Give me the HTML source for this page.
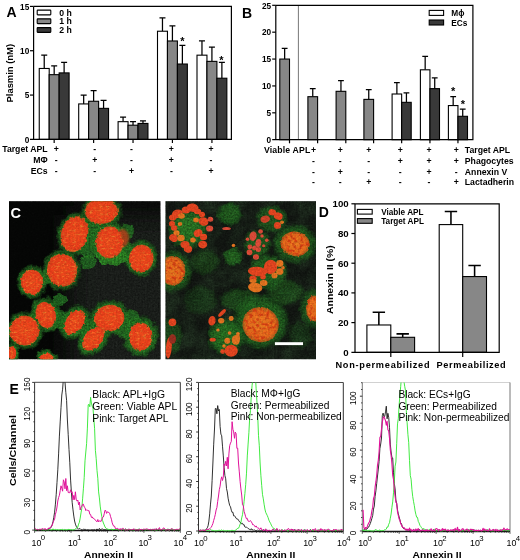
<!DOCTYPE html>
<html><head><meta charset="utf-8"><title>Figure</title>
<style>
html,body{margin:0;padding:0;background:#fff;}
body{width:520px;height:560px;overflow:hidden;}
svg{display:block;font-family:"Liberation Sans", sans-serif;}
.b{font-weight:bold;}
.ax{stroke:#000;stroke-width:1.2;fill:none;}
.eb{stroke:#000;fill:none;}
.bar{stroke:#000;stroke-width:1.1;}
.t9{font-size:9px;font-weight:bold;}
.t85{font-size:8.7px;font-weight:bold;}
.pl{font-size:14px;font-weight:bold;}
.fx{stroke:#777;stroke-width:0.8;fill:none;}
.fl{fill:#000;}
.ft{font-size:8.2px;fill:#000;}
</style></head><body>
<svg width="520" height="560" viewBox="0 0 520 560">
<defs>
<filter id="bl1" x="-30%" y="-30%" width="160%" height="160%"><feGaussianBlur stdDeviation="1.1"/></filter>
<filter id="bl2" x="-30%" y="-30%" width="160%" height="160%"><feGaussianBlur stdDeviation="2.6"/></filter>
<filter id="bl05" x="-30%" y="-30%" width="160%" height="160%"><feGaussianBlur stdDeviation="0.6"/></filter>
<filter id="grain" x="0" y="0" width="100%" height="100%">
<feTurbulence type="fractalNoise" baseFrequency="0.55" numOctaves="2" seed="3" result="n"/>
<feColorMatrix in="n" type="matrix" values="0 0 0 0 0  0 0 0 0 0  0 0 0 0 0  0.9 0.9 0 0 -0.55"/>
</filter>
<filter id="rough" x="-20%" y="-20%" width="140%" height="140%">
<feTurbulence type="fractalNoise" baseFrequency="0.16" numOctaves="2" seed="5" result="n"/>
<feDisplacementMap in="SourceGraphic" in2="n" scale="6" xChannelSelector="R" yChannelSelector="G"/>
<feGaussianBlur stdDeviation="0.7"/>
</filter>
<filter id="bl3" x="-40%" y="-40%" width="180%" height="180%"><feGaussianBlur stdDeviation="14"/></filter>
<filter id="nuc" x="-10%" y="-10%" width="120%" height="120%" color-interpolation-filters="sRGB">
<feTurbulence type="fractalNoise" baseFrequency="0.3" numOctaves="2" seed="4" result="n1"/>
<feDisplacementMap in="SourceGraphic" in2="n1" scale="3.2" xChannelSelector="R" yChannelSelector="G" result="g"/>
<feTurbulence type="fractalNoise" baseFrequency="0.3 0.5" numOctaves="2" seed="11" result="n"/>
<feColorMatrix in="n" type="matrix" values="0 0 0 0 0.98  0 0 0 0 0.62  0 0 0 0 0.22  1.5 1.1 0 0 -1.33" result="sp"/>
<feComposite in="sp" in2="g" operator="in" result="sp2"/>
<feMerge><feMergeNode in="g"/><feMergeNode in="sp2"/></feMerge>
<feGaussianBlur stdDeviation="0.65"/>
</filter>
<filter id="nuc2" x="-10%" y="-10%" width="120%" height="120%" color-interpolation-filters="sRGB">
<feTurbulence type="fractalNoise" baseFrequency="0.3" numOctaves="2" seed="8" result="n1"/>
<feDisplacementMap in="SourceGraphic" in2="n1" scale="2.4" xChannelSelector="R" yChannelSelector="G" result="g"/>
<feTurbulence type="fractalNoise" baseFrequency="0.3" numOctaves="2" seed="17" result="n"/>
<feColorMatrix in="n" type="matrix" values="0 0 0 0 0.88  0 0 0 0 0.25  0 0 0 0 0.08  3.0 2.0 0 0 -2.3" result="sp"/>
<feComposite in="sp" in2="g" operator="in" result="sp2"/>
<feMerge><feMergeNode in="g"/><feMergeNode in="sp2"/></feMerge>
<feGaussianBlur stdDeviation="0.6"/>
</filter>
<filter id="gmottle" x="0" y="0" width="100%" height="100%">
<feTurbulence type="fractalNoise" baseFrequency="0.06" numOctaves="3" seed="9" result="n"/>
<feColorMatrix in="n" type="matrix" values="0 0 0 0 0.12  0 0 0 0 0.36  0 0 0 0 0.12  1.6 1.0 0 0 -0.9"/>
</filter>
<radialGradient id="gh"><stop offset="0" stop-color="#339a2d" stop-opacity="1"/><stop offset="0.7" stop-color="#2d8a29" stop-opacity="0.97"/><stop offset="0.87" stop-color="#236822" stop-opacity="0.75"/><stop offset="1" stop-color="#143414" stop-opacity="0"/></radialGradient>
<radialGradient id="rn"><stop offset="0" stop-color="#f8501e"/><stop offset="0.75" stop-color="#f6421c"/><stop offset="0.93" stop-color="#e8441c"/><stop offset="1" stop-color="#c8581c" stop-opacity="0.7"/></radialGradient>
<radialGradient id="on"><stop offset="0" stop-color="#f58222"/><stop offset="0.8" stop-color="#f4701e"/><stop offset="1" stop-color="#d0681e" stop-opacity="0.75"/></radialGradient>
<clipPath id="c1"><rect x="9" y="201.2" width="151.4" height="158"/></clipPath>
<clipPath id="c2"><rect x="165.5" y="201.2" width="150.5" height="158"/></clipPath>
</defs>
<rect width="520" height="560" fill="#fff"/>

<g id="panelA">
<text class="pl" x="6.4" y="17.2">A</text>
<path class="eb" stroke-width="1.25" d="M44.23 68.47V55.17M41.23 55.17H47.23"/>
<rect class="bar" x="39.25" y="68.47" width="9.95" height="70.93" fill="#ffffff"/>
<path class="eb" stroke-width="1.25" d="M54.18 74.67V65.81M51.18 65.81H57.18"/>
<rect class="bar" x="49.20" y="74.67" width="9.95" height="64.73" fill="#878787"/>
<path class="eb" stroke-width="1.25" d="M64.12 72.90V62.26M61.12 62.26H67.12"/>
<rect class="bar" x="59.15" y="72.90" width="9.95" height="66.50" fill="#393939"/>
<path class="eb" stroke-width="1.25" d="M83.67 103.93V95.07M80.67 95.07H86.67"/>
<rect class="bar" x="78.70" y="103.93" width="9.95" height="35.47" fill="#ffffff"/>
<path class="eb" stroke-width="1.25" d="M93.62 101.27V90.63M90.62 90.63H96.62"/>
<rect class="bar" x="88.65" y="101.27" width="9.95" height="38.13" fill="#878787"/>
<path class="eb" stroke-width="1.25" d="M103.57 108.37V100.39M100.57 100.39H106.57"/>
<rect class="bar" x="98.60" y="108.37" width="9.95" height="31.03" fill="#393939"/>
<path class="eb" stroke-width="1.25" d="M123.07 121.67V117.23M120.07 117.23H126.07"/>
<rect class="bar" x="118.10" y="121.67" width="9.95" height="17.73" fill="#ffffff"/>
<path class="eb" stroke-width="1.25" d="M133.02 125.21V121.67M130.02 121.67H136.02"/>
<rect class="bar" x="128.05" y="125.21" width="9.95" height="14.19" fill="#878787"/>
<path class="eb" stroke-width="1.25" d="M142.97 123.44V120.78M139.97 120.78H145.97"/>
<rect class="bar" x="138.00" y="123.44" width="9.95" height="15.96" fill="#393939"/>
<path class="eb" stroke-width="1.25" d="M162.47 31.23V17.93M159.47 17.93H165.47"/>
<rect class="bar" x="157.50" y="31.23" width="9.95" height="108.17" fill="#ffffff"/>
<path class="eb" stroke-width="1.25" d="M172.42 40.98V25.91M169.42 25.91H175.42"/>
<rect class="bar" x="167.45" y="40.98" width="9.95" height="98.42" fill="#878787"/>
<path class="eb" stroke-width="1.25" d="M182.38 64.03V45.41M179.38 45.41H185.38"/>
<rect class="bar" x="177.40" y="64.03" width="9.95" height="75.37" fill="#393939"/>
<path class="eb" stroke-width="1.25" d="M201.97 55.17V40.98M198.97 40.98H204.97"/>
<rect class="bar" x="197.00" y="55.17" width="9.95" height="84.23" fill="#ffffff"/>
<path class="eb" stroke-width="1.25" d="M211.92 61.37V47.19M208.92 47.19H214.92"/>
<rect class="bar" x="206.95" y="61.37" width="9.95" height="78.03" fill="#878787"/>
<path class="eb" stroke-width="1.25" d="M221.88 78.22V62.26M218.88 62.26H224.88"/>
<rect class="bar" x="216.90" y="78.22" width="9.95" height="61.18" fill="#393939"/>
<path class="ax" d="M33.6 6.4H231.4V139.4H30.0M33.6 139.4V6.4"/>
<path class="ax" d="M30.0 95.07H33.6"/>
<path class="ax" d="M30.0 50.73H33.6"/>
<path class="ax" d="M30.0 6.40H33.6"/>
<text class="t9" x="29.3" y="142.60" text-anchor="end" textLength="4.6" lengthAdjust="spacingAndGlyphs">0</text>
<text class="t9" x="29.3" y="98.27" text-anchor="end" textLength="4.6" lengthAdjust="spacingAndGlyphs">5</text>
<text class="t9" x="29.3" y="53.93" text-anchor="end" textLength="9.2" lengthAdjust="spacingAndGlyphs">10</text>
<text class="t9" x="29.3" y="9.60" text-anchor="end" textLength="9.2" lengthAdjust="spacingAndGlyphs">15</text>
<path class="ax" d="M54.17 139.4V143.0"/>
<path class="ax" d="M93.62 139.4V143.0"/>
<path class="ax" d="M133.03 139.4V143.0"/>
<path class="ax" d="M172.43 139.4V143.0"/>
<path class="ax" d="M211.93 139.4V143.0"/>
<text class="b" font-size="8.8" textLength="58.6" lengthAdjust="spacingAndGlyphs" transform="translate(13.4,73.2) rotate(-90)" text-anchor="middle">Plasmin (nM)</text>
<rect class="bar" stroke-width="1.3" x="37.2" y="10.10" width="13.6" height="4.8" fill="#ffffff" rx="0.6"/>
<text class="t85" x="59.3" y="15.50">0 h</text>
<rect class="bar" stroke-width="1.3" x="37.2" y="18.85" width="13.6" height="4.8" fill="#878787" rx="0.6"/>
<text class="t85" x="59.3" y="24.25">1 h</text>
<rect class="bar" stroke-width="1.3" x="37.2" y="27.60" width="13.6" height="4.8" fill="#393939" rx="0.6"/>
<text class="t85" x="59.3" y="33.00">2 h</text>
<text class="b" font-size="11" x="182.5" y="44.6" text-anchor="middle">*</text>
<text class="b" font-size="11" x="221.4" y="63.6" text-anchor="middle">*</text>
<text class="t85" x="47.6" y="152.2" text-anchor="end">Target APL</text>
<text class="t85" x="56.2" y="152.2" text-anchor="middle">+</text>
<text class="t85" x="94.7" y="152.2" text-anchor="middle">-</text>
<text class="t85" x="131.5" y="152.2" text-anchor="middle">-</text>
<text class="t85" x="171.4" y="152.2" text-anchor="middle">+</text>
<text class="t85" x="211.0" y="152.2" text-anchor="middle">+</text>
<text class="t85" x="47.6" y="162.7" text-anchor="end">MΦ</text>
<text class="t85" x="56.2" y="162.7" text-anchor="middle">-</text>
<text class="t85" x="94.7" y="162.7" text-anchor="middle">+</text>
<text class="t85" x="131.5" y="162.7" text-anchor="middle">-</text>
<text class="t85" x="171.4" y="162.7" text-anchor="middle">+</text>
<text class="t85" x="211.0" y="162.7" text-anchor="middle">-</text>
<text class="t85" x="47.6" y="173.7" text-anchor="end">ECs</text>
<text class="t85" x="56.2" y="173.7" text-anchor="middle">-</text>
<text class="t85" x="94.7" y="173.7" text-anchor="middle">-</text>
<text class="t85" x="131.5" y="173.7" text-anchor="middle">+</text>
<text class="t85" x="171.4" y="173.7" text-anchor="middle">-</text>
<text class="t85" x="211.0" y="173.7" text-anchor="middle">+</text>
</g>
<g id="panelB">
<text class="pl" x="242" y="18.4">B</text>
<path d="M298.4 5.3V139.7" stroke="#555" stroke-width="0.8" fill="none"/>
<path class="eb" stroke-width="1.25" d="M284.65 59.06V48.31M281.75 48.31H287.55"/>
<rect class="bar" x="279.80" y="59.06" width="9.70" height="80.64" fill="#878787"/>
<path class="eb" stroke-width="1.25" d="M312.75 96.69V88.63M309.85 88.63H315.65"/>
<rect class="bar" x="307.90" y="96.69" width="9.70" height="43.01" fill="#878787"/>
<path class="eb" stroke-width="1.25" d="M340.95 91.32V80.56M338.05 80.56H343.85"/>
<rect class="bar" x="336.10" y="91.32" width="9.70" height="48.38" fill="#878787"/>
<path class="eb" stroke-width="1.25" d="M368.75 99.38V89.70M365.85 89.70H371.65"/>
<rect class="bar" x="363.90" y="99.38" width="9.70" height="40.32" fill="#878787"/>
<path class="eb" stroke-width="1.25" d="M396.88 94.00V82.71M393.98 82.71H399.77"/>
<rect class="bar" x="392.10" y="94.00" width="9.55" height="45.70" fill="#ffffff"/>
<path class="eb" stroke-width="1.25" d="M406.43 102.34V92.93M403.53 92.93H409.32"/>
<rect class="bar" x="401.65" y="102.34" width="9.55" height="37.36" fill="#393939"/>
<path class="eb" stroke-width="1.25" d="M425.17 69.81V56.37M422.27 56.37H428.07"/>
<rect class="bar" x="420.40" y="69.81" width="9.55" height="69.89" fill="#ffffff"/>
<path class="eb" stroke-width="1.25" d="M434.72 88.63V77.88M431.82 77.88H437.62"/>
<rect class="bar" x="429.95" y="88.63" width="9.55" height="51.07" fill="#393939"/>
<path class="eb" stroke-width="1.25" d="M453.17 105.56V96.69M450.27 96.69H456.07"/>
<rect class="bar" x="448.40" y="105.56" width="9.55" height="34.14" fill="#ffffff"/>
<path class="eb" stroke-width="1.25" d="M462.72 116.31V109.06M459.82 109.06H465.62"/>
<rect class="bar" x="457.95" y="116.31" width="9.55" height="23.39" fill="#393939"/>
<path class="ax" d="M275.8 5.3H472.9V139.7H272.2M275.8 139.7V5.3"/>
<path class="ax" d="M272.2 112.82H275.8"/>
<path class="ax" d="M272.2 85.94H275.8"/>
<path class="ax" d="M272.2 59.06H275.8"/>
<path class="ax" d="M272.2 32.18H275.8"/>
<path class="ax" d="M272.2 5.30H275.8"/>
<text class="t9" x="271.2" y="142.90" text-anchor="end" textLength="4.6" lengthAdjust="spacingAndGlyphs">0</text>
<text class="t9" x="271.2" y="116.02" text-anchor="end" textLength="4.6" lengthAdjust="spacingAndGlyphs">5</text>
<text class="t9" x="271.2" y="89.14" text-anchor="end" textLength="9.2" lengthAdjust="spacingAndGlyphs">10</text>
<text class="t9" x="271.2" y="62.26" text-anchor="end" textLength="9.2" lengthAdjust="spacingAndGlyphs">15</text>
<text class="t9" x="271.2" y="35.38" text-anchor="end" textLength="9.2" lengthAdjust="spacingAndGlyphs">20</text>
<text class="t9" x="271.2" y="8.50" text-anchor="end" textLength="9.2" lengthAdjust="spacingAndGlyphs">25</text>
<path class="ax" d="M289.50 139.7V143.29999999999998"/>
<path class="ax" d="M317.60 139.7V143.29999999999998"/>
<path class="ax" d="M345.80 139.7V143.29999999999998"/>
<path class="ax" d="M373.60 139.7V143.29999999999998"/>
<path class="ax" d="M401.65 139.7V143.29999999999998"/>
<path class="ax" d="M429.95 139.7V143.29999999999998"/>
<path class="ax" d="M457.95 139.7V143.29999999999998"/>
<rect class="bar" x="429.2" y="10.4" width="14.4" height="5" fill="#ffffff"/>
<rect class="bar" x="429.2" y="20" width="14.4" height="5" fill="#393939"/>
<text class="b" font-size="8.3" x="451.3" y="16.2">Mϕ</text>
<text class="b" font-size="8.3" x="451.3" y="25.9">ECs</text>
<text class="b" font-size="11" x="453.2" y="95.4" text-anchor="middle">*</text>
<text class="b" font-size="11" x="463" y="108.4" text-anchor="middle">*</text>
<text class="t85" x="264" y="152.8" letter-spacing="0.15">Viable APL</text>
<text class="t85" x="313.5" y="152.8" text-anchor="middle">+</text>
<text class="t85" x="340.2" y="152.8" text-anchor="middle">+</text>
<text class="t85" x="368.7" y="152.8" text-anchor="middle">+</text>
<text class="t85" x="400.3" y="152.8" text-anchor="middle">+</text>
<text class="t85" x="429" y="152.8" text-anchor="middle">+</text>
<text class="t85" x="456.2" y="152.8" text-anchor="middle">+</text>
<text class="t85" x="464.8" y="152.8">Target APL</text>
<text class="t85" x="313.5" y="163.5" text-anchor="middle">-</text>
<text class="t85" x="340.2" y="163.5" text-anchor="middle">-</text>
<text class="t85" x="368.7" y="163.5" text-anchor="middle">-</text>
<text class="t85" x="400.3" y="163.5" text-anchor="middle">+</text>
<text class="t85" x="429" y="163.5" text-anchor="middle">+</text>
<text class="t85" x="456.2" y="163.5" text-anchor="middle">+</text>
<text class="t85" x="464.8" y="163.5">Phagocytes</text>
<text class="t85" x="313.5" y="174.6" text-anchor="middle">-</text>
<text class="t85" x="340.2" y="174.6" text-anchor="middle">+</text>
<text class="t85" x="368.7" y="174.6" text-anchor="middle">-</text>
<text class="t85" x="400.3" y="174.6" text-anchor="middle">-</text>
<text class="t85" x="429" y="174.6" text-anchor="middle">+</text>
<text class="t85" x="456.2" y="174.6" text-anchor="middle">-</text>
<text class="t85" x="464.8" y="174.6">Annexin V</text>
<text class="t85" x="313.5" y="185" text-anchor="middle">-</text>
<text class="t85" x="340.2" y="185" text-anchor="middle">-</text>
<text class="t85" x="368.7" y="185" text-anchor="middle">+</text>
<text class="t85" x="400.3" y="185" text-anchor="middle">-</text>
<text class="t85" x="429" y="185" text-anchor="middle">-</text>
<text class="t85" x="456.2" y="185" text-anchor="middle">+</text>
<text class="t85" x="464.8" y="185">Lactadherin</text>
</g>
<g id="panelC">
<rect x="9" y="201.2" width="151.4" height="158" fill="#080908"/>
<g clip-path="url(#c1)">
<rect x="70" y="215" width="120" height="170" fill="#222622" filter="url(#bl3)"/>
<g filter="url(#rough)">
<ellipse cx="101.3" cy="211.2" rx="22.3" ry="18.4" transform="rotate(0 101.3 211.2)" fill="url(#gh)"/>
<ellipse cx="74.5" cy="234.1" rx="18.7" ry="23.5" transform="rotate(15 74.5 234.1)" fill="url(#gh)"/>
<ellipse cx="109.5" cy="242.3" rx="21.2" ry="23.2" transform="rotate(0 109.5 242.3)" fill="url(#gh)"/>
<ellipse cx="141.2" cy="258.6" rx="18.0" ry="19.7" transform="rotate(10 141.2 258.6)" fill="url(#gh)"/>
<ellipse cx="62.1" cy="270.1" rx="20.7" ry="22.3" transform="rotate(-10 62.1 270.1)" fill="url(#gh)"/>
<ellipse cx="32" cy="282.2" rx="16.3" ry="17.9" transform="rotate(0 32 282.2)" fill="url(#gh)"/>
<ellipse cx="45.8" cy="314.9" rx="16.3" ry="19.5" transform="rotate(-15 45.8 314.9)" fill="url(#gh)"/>
<ellipse cx="74.5" cy="322.4" rx="15.5" ry="20.0" transform="rotate(35 74.5 322.4)" fill="url(#gh)"/>
<ellipse cx="109.5" cy="318.1" rx="21.2" ry="19.5" transform="rotate(-10 109.5 318.1)" fill="url(#gh)"/>
<ellipse cx="24.5" cy="330.6" rx="20.2" ry="20.2" transform="rotate(0 24.5 330.6)" fill="url(#gh)"/>
<ellipse cx="93.2" cy="338.7" rx="15.5" ry="20.5" transform="rotate(40 93.2 338.7)" fill="url(#gh)"/>
<ellipse cx="140.6" cy="336.5" rx="19.4" ry="21.7" transform="rotate(0 140.6 336.5)" fill="url(#gh)"/>
<ellipse cx="12.3" cy="353" rx="7.6" ry="10.5" transform="rotate(0 12.3 353)" fill="url(#gh)"/>
<ellipse cx="46.7" cy="357.5" rx="11.5" ry="9.2" transform="rotate(0 46.7 357.5)" fill="url(#gh)"/>
<ellipse cx="92" cy="228" rx="13" ry="11" fill="#2d8a29" opacity="0.8"/>
<ellipse cx="122" cy="250" rx="12" ry="10" fill="#2d8a29" opacity="0.8"/>
<ellipse cx="90" cy="248" rx="11" ry="10" fill="#2d8a29" opacity="0.8"/>
<ellipse cx="47" cy="277" rx="8" ry="8" fill="#2d8a29" opacity="0.8"/>
<ellipse cx="60" cy="320" rx="10" ry="10" fill="#2d8a29" opacity="0.8"/>
<ellipse cx="90" cy="328" rx="11" ry="10" fill="#2d8a29" opacity="0.8"/>
<ellipse cx="125" cy="328" rx="11" ry="10" fill="#2d8a29" opacity="0.8"/>
<ellipse cx="35" cy="322" rx="8" ry="8" fill="#2d8a29" opacity="0.8"/>
<ellipse cx="88" cy="262" rx="8" ry="7" fill="#2d8a29" opacity="0.8"/>
<ellipse cx="126" cy="232" rx="8" ry="8" fill="#2d8a29" opacity="0.8"/>
<ellipse cx="100" cy="330" rx="9" ry="8" fill="#2d8a29" opacity="0.8"/>
<ellipse cx="60" cy="300" rx="7" ry="6" fill="#2d8a29" opacity="0.8"/>
<ellipse cx="132" cy="318" rx="8" ry="8" fill="#2d8a29" opacity="0.8"/>
<ellipse cx="112" cy="257" rx="16" ry="8" fill="#36a02e" opacity="0.9"/>
</g>
<rect x="9" y="201" width="152" height="159" fill="#000" filter="url(#grain)" opacity="0.45"/>
<ellipse cx="122.5" cy="238" rx="6.5" ry="9" fill="#a8451e" filter="url(#bl1)"/>
<g filter="url(#nuc)">
<ellipse cx="101.3" cy="211.2" rx="16.7" ry="12.8" transform="rotate(0 101.3 211.2)" fill="url(#rn)"/>
<ellipse cx="74.5" cy="234.1" rx="13.6" ry="18.4" transform="rotate(15 74.5 234.1)" fill="url(#rn)"/>
<ellipse cx="109.5" cy="242.3" rx="14.1" ry="16.1" transform="rotate(0 109.5 242.3)" fill="url(#rn)"/>
<ellipse cx="141.2" cy="258.6" rx="12.4" ry="14.1" transform="rotate(10 141.2 258.6)" fill="url(#rn)"/>
<ellipse cx="62.1" cy="270.1" rx="15.1" ry="16.7" transform="rotate(-10 62.1 270.1)" fill="url(#rn)"/>
<ellipse cx="32" cy="282.2" rx="11.2" ry="12.8" transform="rotate(0 32 282.2)" fill="url(#rn)"/>
<ellipse cx="45.8" cy="314.9" rx="10.2" ry="13.4" transform="rotate(-15 45.8 314.9)" fill="url(#rn)"/>
<ellipse cx="74.5" cy="322.4" rx="8.9" ry="13.4" transform="rotate(35 74.5 322.4)" fill="url(#rn)"/>
<ellipse cx="109.5" cy="318.1" rx="15.1" ry="13.4" transform="rotate(-10 109.5 318.1)" fill="url(#rn)"/>
<ellipse cx="24.5" cy="330.6" rx="15.1" ry="15.1" transform="rotate(0 24.5 330.6)" fill="url(#rn)"/>
<ellipse cx="93.2" cy="338.7" rx="8.9" ry="13.9" transform="rotate(40 93.2 338.7)" fill="url(#rn)"/>
<ellipse cx="140.6" cy="336.5" rx="11.8" ry="14.1" transform="rotate(0 140.6 336.5)" fill="url(#rn)"/>
<ellipse cx="12.3" cy="353" rx="4.0" ry="6.9" transform="rotate(0 12.3 353)" fill="url(#rn)"/>
<ellipse cx="46.7" cy="357.5" rx="6.9" ry="4.6" transform="rotate(0 46.7 357.5)" fill="url(#rn)"/>
</g>
<rect x="9" y="201" width="152" height="159" fill="#000" filter="url(#grain)" opacity="0.22"/>
</g>
<text x="10.4" y="217.7" font-size="14.6" font-weight="bold" fill="#fff">C</text>
<rect x="165.5" y="201.2" width="150.5" height="158" fill="#171c17"/>
<g clip-path="url(#c2)">
<rect x="165.5" y="201.2" width="150.5" height="158" filter="url(#gmottle)" opacity="0.22"/>
<g filter="url(#rough)" opacity="0.82">
<ellipse cx="188" cy="229" rx="21" ry="22" fill="url(#gh)" opacity="1"/>
<ellipse cx="229.6" cy="213.8" rx="13.5" ry="13" fill="url(#gh)" opacity="0.8"/>
<ellipse cx="232.7" cy="257" rx="10.5" ry="10" fill="url(#gh)" opacity="0.85"/>
<ellipse cx="173" cy="271" rx="21" ry="23" fill="url(#gh)" opacity="0.8"/>
<ellipse cx="272" cy="219" rx="17" ry="15" fill="url(#gh)" opacity="0.7"/>
<ellipse cx="257" cy="244" rx="15" ry="15" fill="url(#gh)" opacity="0.75"/>
<ellipse cx="295" cy="244" rx="24" ry="21" fill="url(#gh)" opacity="0.8"/>
<ellipse cx="268" cy="272" rx="21" ry="19" fill="url(#gh)" opacity="0.85"/>
<ellipse cx="260.6" cy="322" rx="30" ry="29" fill="url(#gh)" opacity="0.9"/>
<ellipse cx="313.5" cy="308" rx="15" ry="22" fill="url(#gh)" opacity="0.7"/>
<ellipse cx="226.5" cy="337" rx="20" ry="20" fill="url(#gh)" opacity="1"/>
<ellipse cx="171" cy="336" rx="12" ry="20" fill="url(#gh)" opacity="0.6"/>
<ellipse cx="240" cy="300" rx="22" ry="13" fill="url(#gh)" opacity="0.55"/>
<ellipse cx="285" cy="292" rx="20" ry="14" fill="url(#gh)" opacity="0.55"/>
<ellipse cx="205" cy="262" rx="16" ry="14" fill="url(#gh)" opacity="0.4"/>
<ellipse cx="200" cy="300" rx="18" ry="16" fill="url(#gh)" opacity="0.3"/>
<ellipse cx="300" cy="335" rx="14" ry="14" fill="url(#gh)" opacity="0.3"/>
<ellipse cx="188" cy="229" rx="11" ry="12" fill="#3aa030" opacity="0.8"/>
<ellipse cx="226.5" cy="337" rx="11" ry="11" fill="#34962c" opacity="0.7"/>
</g>
<rect x="165" y="201" width="152" height="159" fill="#000" filter="url(#grain)" opacity="0.4"/>
<g filter="url(#nuc2)">
<ellipse cx="172.7" cy="270.8" rx="12.6" ry="14.8" transform="rotate(0 172.7 270.8)" fill="url(#on)"/>
<ellipse cx="295.2" cy="243.8" rx="14.6" ry="12.3" transform="rotate(10 295.2 243.8)" fill="url(#on)"/>
<ellipse cx="260.6" cy="324.6" rx="18.2" ry="17.5" transform="rotate(20 260.6 324.6)" fill="url(#on)"/>
<ellipse cx="314.5" cy="308.5" rx="8.5" ry="13" transform="rotate(0 314.5 308.5)" fill="url(#on)"/>
</g>
<g filter="url(#bl05)">
<ellipse cx="192.7" cy="207.7" rx="5.88" ry="4.2" transform="rotate(10 192.7 207.7)" fill="#f04a22"/>
<ellipse cx="186" cy="210" rx="4.2" ry="3.5" transform="rotate(0 186 210)" fill="#f04a22"/>
<ellipse cx="177.3" cy="213.8" rx="5.6" ry="4.2" transform="rotate(-20 177.3 213.8)" fill="#f04a22"/>
<ellipse cx="172.7" cy="217.5" rx="3.64" ry="3.08" transform="rotate(0 172.7 217.5)" fill="#f04a22"/>
<ellipse cx="181.5" cy="216" rx="3.36" ry="2.8" transform="rotate(0 181.5 216)" fill="#f07a24"/>
<ellipse cx="197.5" cy="211.5" rx="3.64" ry="2.8" transform="rotate(0 197.5 211.5)" fill="#f04a22"/>
<ellipse cx="202" cy="214.6" rx="3.08" ry="2.8" transform="rotate(0 202 214.6)" fill="#f04a22"/>
<ellipse cx="203.5" cy="221.5" rx="5.04" ry="4.2" transform="rotate(20 203.5 221.5)" fill="#f04a22"/>
<ellipse cx="210.4" cy="219.2" rx="2.8" ry="2.52" transform="rotate(0 210.4 219.2)" fill="#e8503a"/>
<ellipse cx="209.6" cy="228.5" rx="3.64" ry="3.08" transform="rotate(0 209.6 228.5)" fill="#e8503a"/>
<ellipse cx="172" cy="223.8" rx="3.08" ry="2.8" transform="rotate(0 172 223.8)" fill="#f04a22"/>
<ellipse cx="174.2" cy="228" rx="3.22" ry="2.8" transform="rotate(0 174.2 228)" fill="#f04a22"/>
<ellipse cx="176.5" cy="233" rx="3.08" ry="2.8" transform="rotate(0 176.5 233)" fill="#f07a24"/>
<ellipse cx="173.5" cy="238" rx="4.48" ry="3.64" transform="rotate(30 173.5 238)" fill="#f04a22"/>
<ellipse cx="181" cy="238" rx="3.64" ry="3.22" transform="rotate(0 181 238)" fill="#f07a24"/>
<ellipse cx="185" cy="244.6" rx="4.48" ry="3.64" transform="rotate(0 185 244.6)" fill="#f04a22"/>
<ellipse cx="188" cy="249" rx="4.2" ry="3.64" transform="rotate(20 188 249)" fill="#f04a22"/>
<ellipse cx="202.7" cy="244.6" rx="4.48" ry="3.92" transform="rotate(0 202.7 244.6)" fill="#f04a22"/>
<ellipse cx="203.5" cy="237" rx="3.64" ry="3.22" transform="rotate(0 203.5 237)" fill="#f04a22"/>
<ellipse cx="198" cy="233" rx="4.48" ry="3.64" transform="rotate(-30 198 233)" fill="#f04a22"/>
<ellipse cx="193" cy="240" rx="2.8" ry="2.52" transform="rotate(0 193 240)" fill="#f07a24"/>
<ellipse cx="196" cy="220" rx="2.8" ry="2.38" transform="rotate(0 196 220)" fill="#f07a24"/>
<ellipse cx="180" cy="224" rx="2.24" ry="1.96" transform="rotate(0 180 224)" fill="#f07a24"/>
<ellipse cx="226.5" cy="228.5" rx="4.32" ry="1.56" transform="rotate(0 226.5 228.5)" fill="#e8503a"/>
<ellipse cx="233.5" cy="245.4" rx="1.8" ry="1.68" transform="rotate(0 233.5 245.4)" fill="#f07a24"/>
<ellipse cx="272.2" cy="212.3" rx="3.84" ry="3.12" transform="rotate(10 272.2 212.3)" fill="#f04a22"/>
<ellipse cx="278.3" cy="216.2" rx="4.44" ry="3.6" transform="rotate(20 278.3 216.2)" fill="#f04a22"/>
<ellipse cx="265.2" cy="219.2" rx="4.8" ry="3.6" transform="rotate(-10 265.2 219.2)" fill="#d8452a"/>
<ellipse cx="277.5" cy="225.4" rx="3.6" ry="3.36" transform="rotate(0 277.5 225.4)" fill="#f04a22"/>
<ellipse cx="282" cy="222.3" rx="1.92" ry="1.8" transform="rotate(0 282 222.3)" fill="#f07a24"/>
<ellipse cx="253" cy="236.2" rx="3.6" ry="4.8" transform="rotate(10 253 236.2)" fill="#e8503a"/>
<ellipse cx="260.6" cy="231.5" rx="2.4" ry="2.16" transform="rotate(0 260.6 231.5)" fill="#e8503a"/>
<ellipse cx="247.5" cy="239.2" rx="1.8" ry="1.8" transform="rotate(0 247.5 239.2)" fill="#e8503a"/>
<ellipse cx="258.3" cy="243" rx="2.88" ry="4.08" transform="rotate(10 258.3 243)" fill="#e8503a"/>
<ellipse cx="262" cy="236" rx="1.8" ry="1.68" transform="rotate(0 262 236)" fill="#e8503a"/>
<ellipse cx="266.8" cy="240.3" rx="1.8" ry="1.68" transform="rotate(0 266.8 240.3)" fill="#e8503a"/>
<ellipse cx="249.8" cy="247" rx="2.4" ry="2.4" transform="rotate(0 249.8 247)" fill="#e8503a"/>
<ellipse cx="254.5" cy="248" rx="2.4" ry="2.4" transform="rotate(0 254.5 248)" fill="#e8503a"/>
<ellipse cx="258.3" cy="249.5" rx="2.64" ry="2.52" transform="rotate(0 258.3 249.5)" fill="#e8503a"/>
<ellipse cx="249.5" cy="252.3" rx="2.88" ry="2.88" transform="rotate(0 249.5 252.3)" fill="#e8503a"/>
<ellipse cx="256" cy="257" rx="3.0" ry="2.76" transform="rotate(0 256 257)" fill="#e8503a"/>
<ellipse cx="263.7" cy="245.8" rx="1.56" ry="1.56" transform="rotate(0 263.7 245.8)" fill="#e8503a"/>
<ellipse cx="270.6" cy="267" rx="6.72" ry="7.2" transform="rotate(20 270.6 267)" fill="#f04a22"/>
<ellipse cx="257.5" cy="271.5" rx="9.6" ry="4.8" transform="rotate(5 257.5 271.5)" fill="#f04a22"/>
<ellipse cx="279.8" cy="263.4" rx="3.6" ry="3.36" transform="rotate(0 279.8 263.4)" fill="#f07a24"/>
<ellipse cx="279.8" cy="271.5" rx="3.6" ry="3.36" transform="rotate(0 279.8 271.5)" fill="#f07a24"/>
<ellipse cx="274.5" cy="275.4" rx="3.0" ry="2.88" transform="rotate(0 274.5 275.4)" fill="#f07a24"/>
<ellipse cx="283" cy="267.7" rx="1.8" ry="1.8" transform="rotate(0 283 267.7)" fill="#f07a24"/>
<ellipse cx="253" cy="278.5" rx="3.6" ry="3.12" transform="rotate(0 253 278.5)" fill="#f04a22"/>
<ellipse cx="263" cy="277" rx="2.88" ry="2.4" transform="rotate(0 263 277)" fill="#f04a22"/>
<ellipse cx="255.2" cy="287.4" rx="7.2" ry="4.8" transform="rotate(10 255.2 287.4)" fill="#f07a24"/>
<ellipse cx="263.7" cy="283" rx="3.84" ry="3.0" transform="rotate(0 263.7 283)" fill="#f07a24"/>
<ellipse cx="253" cy="281" rx="3.6" ry="1.92" transform="rotate(0 253 281)" fill="#f07a24"/>
<ellipse cx="172.4" cy="322.3" rx="3.84" ry="3.84" transform="rotate(0 172.4 322.3)" fill="#f04a22"/>
<ellipse cx="168.8" cy="347.7" rx="3.0" ry="10.8" transform="rotate(5 168.8 347.7)" fill="#f04a22"/>
<ellipse cx="172.5" cy="339" rx="3.6" ry="4.8" transform="rotate(0 172.5 339)" fill="#a03020"/>
<ellipse cx="212" cy="320.8" rx="3.6" ry="4.8" transform="rotate(10 212 320.8)" fill="#f04a22"/>
<ellipse cx="222" cy="313" rx="5.04" ry="1.92" transform="rotate(-45 222 313)" fill="#f04a22"/>
<ellipse cx="221.2" cy="320.8" rx="3.12" ry="2.76" transform="rotate(0 221.2 320.8)" fill="#f07a24"/>
<ellipse cx="231.2" cy="318.5" rx="2.52" ry="2.4" transform="rotate(0 231.2 318.5)" fill="#f07a24"/>
<ellipse cx="212.7" cy="339.7" rx="3.12" ry="1.92" transform="rotate(0 212.7 339.7)" fill="#f04a22"/>
<ellipse cx="227.3" cy="340.8" rx="3.0" ry="3.0" transform="rotate(0 227.3 340.8)" fill="#f07a24"/>
<ellipse cx="235.8" cy="340" rx="4.08" ry="4.8" transform="rotate(0 235.8 340)" fill="#f07a24"/>
<ellipse cx="231.2" cy="350.8" rx="6.6" ry="6.0" transform="rotate(0 231.2 350.8)" fill="#f04a22"/>
<ellipse cx="222.7" cy="351.5" rx="2.4" ry="2.4" transform="rotate(0 222.7 351.5)" fill="#f04a22"/>
<ellipse cx="229.6" cy="333" rx="1.92" ry="1.8" transform="rotate(0 229.6 333)" fill="#f07a24"/>
<ellipse cx="238" cy="333.8" rx="1.92" ry="1.8" transform="rotate(0 238 333.8)" fill="#f07a24"/>
<ellipse cx="218" cy="330" rx="1.68" ry="1.56" transform="rotate(0 218 330)" fill="#f07a24"/>
<ellipse cx="224" cy="346" rx="1.8" ry="1.68" transform="rotate(0 224 346)" fill="#f07a24"/>
<ellipse cx="237.5" cy="337.7" rx="2.4" ry="3.6" transform="rotate(0 237.5 337.7)" fill="#f07a24"/>
</g>
<rect x="165" y="201" width="152" height="159" fill="#000" filter="url(#grain)" opacity="0.24"/>
<rect x="274.9" y="342.2" width="28.1" height="2.9" fill="#fff"/>
</g>
</g>
<g id="panelD">
<text class="pl" x="318.8" y="217">D</text>
<path class="eb" stroke-width="1.55" d="M378.85 324.98V312.20M372.65 312.20H385.05"/>
<rect class="bar" x="366.90" y="324.98" width="23.90" height="27.32" fill="#ffffff"/>
<path class="eb" stroke-width="1.55" d="M402.70 337.30V333.89M396.50 333.89H408.90"/>
<rect class="bar" x="390.80" y="337.30" width="23.80" height="15.00" fill="#878787"/>
<path class="eb" stroke-width="1.55" d="M450.95 224.59V211.52M444.75 211.52H457.15"/>
<rect class="bar" x="439.20" y="224.59" width="23.50" height="127.71" fill="#ffffff"/>
<path class="eb" stroke-width="1.55" d="M474.60 276.56V265.43M468.40 265.43H480.80"/>
<rect class="bar" x="462.70" y="276.56" width="23.80" height="75.74" fill="#878787"/>
<path class="ax" d="M355.0 203.8H499.2V352.3H351.4M355.0 352.3V203.8"/>
<path class="ax" d="M351.4 322.60H355.0"/>
<path class="ax" d="M351.4 292.90H355.0"/>
<path class="ax" d="M351.4 263.20H355.0"/>
<path class="ax" d="M351.4 233.50H355.0"/>
<path class="ax" d="M351.4 203.80H355.0"/>
<text class="b" font-size="9.7" x="348.7" y="355.60" text-anchor="end">0</text>
<text class="b" font-size="9.7" x="348.7" y="325.90" text-anchor="end">20</text>
<text class="b" font-size="9.7" x="348.7" y="296.20" text-anchor="end">40</text>
<text class="b" font-size="9.7" x="348.7" y="266.50" text-anchor="end">60</text>
<text class="b" font-size="9.7" x="348.7" y="236.80" text-anchor="end">80</text>
<text class="b" font-size="9.7" x="348.7" y="207.10" text-anchor="end">100</text>
<path class="ax" d="M390.8 352.3V356.90000000000003"/>
<path class="ax" d="M462.7 352.3V356.90000000000003"/>
<rect class="bar" stroke-width="1.3" x="357.4" y="209.4" width="14.8" height="4.7" fill="#ffffff"/>
<rect class="bar" stroke-width="1.3" x="357.4" y="218.6" width="14.8" height="4.7" fill="#878787"/>
<text class="b" font-size="8.2" x="381.2" y="214.5">Viable APL</text>
<text class="b" font-size="8.2" x="381.2" y="223.8">Target APL</text>
<text class="b" font-size="9.2" letter-spacing="0.75" x="335.4" y="367.6">Non-permeabilized</text>
<text class="b" font-size="9.2" letter-spacing="0.6" x="436.6" y="367.6">Permeabilized</text>
<text class="b" font-size="9.8" textLength="68.8" lengthAdjust="spacingAndGlyphs" transform="translate(333.0,279.6) rotate(-90)" text-anchor="middle">Annexin II (%)</text>
</g>
<text class="pl" x="9.6" y="394">E</text>
<text class="b" font-size="8.4" textLength="71" lengthAdjust="spacingAndGlyphs" transform="translate(15.9,450.6) rotate(-90)" text-anchor="middle" fill="#000">Cells/Channel</text>
<g id="panelE1">
<clipPath id="e1"><rect x="34.6" y="382.3" width="145.7" height="148.6"/></clipPath>
<rect x="34.6" y="382.3" width="145.7" height="148.2" fill="#fff"/>
<path d="M34.6 382.3H180.3" stroke="#333" stroke-width="0.9" fill="none"/>
<path d="M34.6 382.3V530.5M180.3 382.3V530.5" stroke="#333" stroke-width="1" fill="none"/>
<path d="M34.6 530.5H180.3" stroke="#181818" stroke-width="1.3" fill="none"/>
<path d="M34.6 530.5v2.4M45.6 530.5v1.3M52.0 530.5v1.3M56.5 530.5v1.3M60.1 530.5v1.3M62.9 530.5v1.3M65.4 530.5v1.3M67.5 530.5v1.3M69.4 530.5v1.3M71.0 530.5v2.4M82.0 530.5v1.3M88.4 530.5v1.3M93.0 530.5v1.3M96.5 530.5v1.3M99.4 530.5v1.3M101.8 530.5v1.3M103.9 530.5v1.3M105.8 530.5v1.3M107.5 530.5v2.4M118.4 530.5v1.3M124.8 530.5v1.3M129.4 530.5v1.3M132.9 530.5v1.3M135.8 530.5v1.3M138.2 530.5v1.3M140.3 530.5v1.3M142.2 530.5v1.3M143.9 530.5v2.4M154.8 530.5v1.3M161.3 530.5v1.3M165.8 530.5v1.3M169.3 530.5v1.3M172.2 530.5v1.3M174.7 530.5v1.3M176.8 530.5v1.3M178.6 530.5v1.3M180.3 530.5v2.4" stroke="#222" stroke-width="0.7" fill="none"/>
<path d="M34.6 530.1h-2.4M34.6 520.2h-1.2M34.6 510.4h-1.2M34.6 500.6h-2.4M34.6 490.7h-1.2M34.6 480.9h-1.2M34.6 471.0h-2.4M34.6 461.2h-1.2M34.6 451.3h-1.2M34.6 441.5h-2.4M34.6 431.6h-1.2M34.6 421.8h-1.2M34.6 411.9h-2.4M34.6 402.1h-1.2M34.6 392.2h-1.2M34.6 382.4h-2.4" stroke="#222" stroke-width="0.9" fill="none"/>
<text class="ft" transform="translate(29.6,532.1) rotate(-90)" text-anchor="middle">0</text>
<text class="ft" transform="translate(29.6,502.6) rotate(-90)" text-anchor="middle">30</text>
<text class="ft" transform="translate(29.6,473.0) rotate(-90)" text-anchor="middle">60</text>
<text class="ft" transform="translate(29.6,443.5) rotate(-90)" text-anchor="middle">90</text>
<text class="ft" transform="translate(29.6,413.9) rotate(-90)" text-anchor="middle">120</text>
<text class="ft" transform="translate(29.6,384.4) rotate(-90)" text-anchor="middle">150</text>
<g clip-path="url(#e1)">
<polyline points="34.6 529.9 35.4 529.8 36.2 530.1 37.0 529.6 37.8 529.5 38.6 529.9 39.4 529.6 40.2 530.0 41.0 530.0 41.8 529.5 42.6 530.0 43.4 530.1 44.2 529.7 45.0 530.0 45.8 529.7 46.6 529.9 47.4 529.9 48.2 529.7 49.0 529.4 49.8 528.3 50.6 527.9 51.4 526.8 52.2 524.5 53.0 521.6 53.8 517.3 54.6 512.2 55.4 504.2 56.2 494.7 57.0 482.4 57.8 469.8 58.6 453.9 59.4 436.1 60.2 421.9 61.0 407.7 61.8 395.0 62.6 389.2 63.4 378.8 64.2 377.3 65.0 382.2 65.8 392.3 66.6 400.4 67.4 420.0 68.2 434.3 69.0 449.4 69.8 462.8 70.6 480.1 71.4 492.2 72.2 502.7 73.0 509.9 73.8 516.1 74.6 521.0 75.4 524.1 76.2 526.2 77.0 527.7 77.8 528.3 78.6 529.1 79.4 528.5 80.2 528.7 81.0 529.5 81.8 529.9 82.6 529.8 83.4 529.3 84.2 529.2 85.0 529.9 85.8 529.4 86.6 530.0 87.4 529.7 88.2 529.8 89.0 529.9 89.8 530.1 90.6 530.0 91.4 529.7 92.2 530.0 93.0 529.3 93.8 530.0 94.6 529.5 95.4 530.0 96.2 530.0 97.0 528.9 97.8 530.0 98.6 530.0 99.4 528.4 100.2 529.8 101.0 529.0 101.8 529.3 102.6 529.0 103.4 529.5 104.2 529.5 105.0 529.7 105.8 529.6 106.6 529.8 107.4 529.8 108.2 529.8 109.0 530.1 109.8 529.6 110.6 529.5 111.4 529.8 112.2 529.7 113.0 530.0 113.8 530.1 114.6 529.6 115.4 529.4 116.2 530.0 117.0 529.4 117.8 529.8 118.6 529.7 119.4 529.7 120.2 529.5 121.0 529.6 121.8 529.1 122.6 529.8 123.4 529.9 124.2 529.7 125.0 529.3 125.8 528.9 126.6 529.8 127.4 530.0 128.2 529.6 129.0 529.7 129.8 529.2 130.6 530.0 131.4 530.0 132.2 530.0 133.0 529.5 133.8 529.3 134.6 530.1 135.4 530.1 136.2 529.8 137.0 530.0 137.8 529.7 138.6 529.6 139.4 528.9 140.2 529.8 141.0 530.1 141.8 530.1 142.6 529.8 143.4 529.7 144.2 529.5 145.0 529.6 145.8 529.6 146.6 530.0 147.4 529.8 148.2 529.7 149.0 529.3 149.8 529.7 150.6 529.5 151.4 529.9 152.2 529.8 153.0 529.2 153.8 529.5 154.6 529.1 155.4 529.9 156.2 529.9 157.0 529.1 157.8 529.7 158.6 529.8 159.4 529.8 160.2 530.1 161.0 529.9 161.8 529.8 162.6 529.4 163.4 529.9 164.2 530.0 165.0 529.5 165.8 529.9 166.6 530.0 167.4 529.5 168.2 529.3 169.0 529.6 169.8 529.6 170.6 529.7 171.4 529.2 172.2 529.2 173.0 530.0 173.8 530.0 174.6 530.0 175.4 530.0 176.2 530.0 177.0 529.6 177.8 529.9 178.6 529.9 179.4 530.0 180.2 529.8" fill="none" stroke="#1a1a1a" stroke-width="0.9" stroke-linejoin="round"/>
<polyline points="34.6 530.0 35.4 529.9 36.2 530.1 37.0 529.2 37.8 529.5 38.6 529.8 39.4 529.7 40.2 529.2 41.0 529.8 41.8 529.8 42.6 529.7 43.4 530.0 44.2 529.7 45.0 530.1 45.8 530.0 46.6 529.8 47.4 529.8 48.2 529.9 49.0 529.9 49.8 529.3 50.6 529.8 51.4 529.8 52.2 530.0 53.0 528.8 53.8 530.0 54.6 529.7 55.4 529.4 56.2 529.9 57.0 529.7 57.8 529.6 58.6 529.9 59.4 529.8 60.2 529.6 61.0 529.6 61.8 529.7 62.6 529.4 63.4 530.0 64.2 529.5 65.0 529.9 65.8 529.7 66.6 529.9 67.4 530.0 68.2 529.1 69.0 529.9 69.8 529.0 70.6 530.1 71.4 529.6 72.2 530.0 73.0 529.8 73.8 529.7 74.6 529.7 75.4 528.7 76.2 528.3 77.0 527.6 77.8 527.1 78.6 524.1 79.4 522.3 80.2 518.1 81.0 512.9 81.8 508.3 82.6 498.8 83.4 488.8 84.2 477.6 85.0 460.8 85.8 452.0 86.6 443.6 87.4 428.1 88.2 404.8 89.0 404.3 89.8 406.8 90.6 397.3 91.4 403.1 92.2 406.2 93.0 408.4 93.8 418.3 94.6 428.7 95.4 450.3 96.2 458.7 97.0 470.4 97.8 478.3 98.6 491.9 99.4 497.9 100.2 506.1 101.0 511.9 101.8 516.7 102.6 520.6 103.4 523.0 104.2 524.9 105.0 526.9 105.8 528.0 106.6 528.8 107.4 529.0 108.2 529.2 109.0 529.8 109.8 529.6 110.6 529.5 111.4 529.0 112.2 530.1 113.0 529.6 113.8 529.5 114.6 529.5 115.4 529.4 116.2 529.5 117.0 529.6 117.8 529.5 118.6 530.0 119.4 529.7 120.2 529.7 121.0 530.1 121.8 529.9 122.6 529.5 123.4 529.9 124.2 529.7 125.0 529.8 125.8 529.5 126.6 529.8 127.4 529.6 128.2 529.5 129.0 529.6 129.8 529.8 130.6 529.8 131.4 529.8 132.2 529.8 133.0 529.7 133.8 530.0 134.6 529.8 135.4 529.4 136.2 529.5 137.0 529.8 137.8 529.4 138.6 529.1 139.4 530.0 140.2 530.1 141.0 529.4 141.8 529.8 142.6 529.7 143.4 529.6 144.2 529.7 145.0 530.0 145.8 530.0 146.6 529.5 147.4 529.7 148.2 529.7 149.0 529.8 149.8 529.7 150.6 529.8 151.4 529.5 152.2 529.9 153.0 529.9 153.8 529.6 154.6 529.9 155.4 530.0 156.2 530.0 157.0 530.1 157.8 529.6 158.6 529.2 159.4 529.9 160.2 530.1 161.0 529.0 161.8 530.0 162.6 529.6 163.4 530.0 164.2 529.9 165.0 529.3 165.8 530.0 166.6 529.9 167.4 529.0 168.2 529.7 169.0 530.1 169.8 530.0 170.6 529.4 171.4 529.7 172.2 529.0 173.0 530.1 173.8 529.7 174.6 529.8 175.4 529.7 176.2 529.7 177.0 529.9 177.8 529.6 178.6 529.6 179.4 529.9 180.2 529.9" fill="none" stroke="#2de82d" stroke-width="0.9" stroke-linejoin="round"/>
<polyline points="34.6 528.8 35.4 528.5 36.2 529.5 37.0 529.6 37.8 529.6 38.6 530.0 39.4 529.2 40.2 529.1 41.0 530.0 41.8 528.7 42.6 528.6 43.4 528.8 44.2 529.6 45.0 528.3 45.8 529.9 46.6 529.5 47.4 529.0 48.2 529.1 49.0 527.6 49.8 528.3 50.6 527.7 51.4 525.7 52.2 525.6 53.0 522.7 53.8 520.7 54.6 519.2 55.4 514.2 56.2 511.6 57.0 507.0 57.8 501.0 58.6 497.5 59.4 495.3 60.2 490.7 61.0 485.8 61.8 488.2 62.6 491.2 63.4 479.8 64.2 481.9 65.0 488.8 65.8 478.5 66.6 490.6 67.4 485.8 68.2 492.5 69.0 492.7 69.8 492.7 70.6 489.8 71.4 492.7 72.2 491.8 73.0 499.9 73.8 495.4 74.6 499.6 75.4 491.8 76.2 499.2 77.0 501.1 77.8 500.0 78.6 504.8 79.4 502.0 80.2 510.0 81.0 507.4 81.8 506.2 82.6 504.4 83.4 504.2 84.2 507.0 85.0 507.6 85.8 510.6 86.6 509.8 87.4 510.3 88.2 510.7 89.0 510.6 89.8 514.3 90.6 514.5 91.4 517.4 92.2 516.9 93.0 518.4 93.8 518.4 94.6 519.1 95.4 520.2 96.2 521.1 97.0 521.9 97.8 519.5 98.6 521.9 99.4 520.8 100.2 521.1 101.0 521.5 101.8 519.2 102.6 517.3 103.4 517.0 104.2 513.9 105.0 510.2 105.8 510.7 106.6 513.4 107.4 511.8 108.2 512.3 109.0 512.4 109.8 513.8 110.6 516.7 111.4 519.2 112.2 522.8 113.0 525.0 113.8 526.3 114.6 526.2 115.4 528.5 116.2 528.8 117.0 528.4 117.8 528.4 118.6 529.4 119.4 530.0 120.2 528.5 121.0 530.0 121.8 529.9 122.6 528.3 123.4 528.4 124.2 529.4 125.0 530.0 125.8 530.0 126.6 529.6 127.4 530.0 128.2 529.4 129.0 529.0 129.8 529.7 130.6 529.7 131.4 529.7 132.2 529.4 133.0 529.9 133.8 528.7 134.6 529.3 135.4 530.1 136.2 529.7 137.0 529.7 137.8 529.8 138.6 529.8 139.4 530.0 140.2 529.0 141.0 530.0 141.8 529.3 142.6 529.8 143.4 529.2 144.2 529.4 145.0 528.9 145.8 529.4 146.6 528.9 147.4 528.8 148.2 529.7 149.0 529.0 149.8 529.9 150.6 529.2 151.4 530.0 152.2 529.5 153.0 529.1 153.8 529.7 154.6 529.7 155.4 529.9 156.2 528.4 157.0 529.3 157.8 529.6 158.6 529.3 159.4 527.6 160.2 529.8 161.0 529.5 161.8 529.8 162.6 529.5 163.4 527.9 164.2 528.1 165.0 529.5 165.8 530.0 166.6 529.8 167.4 529.7 168.2 529.6 169.0 530.0 169.8 529.9 170.6 529.4 171.4 528.9 172.2 528.6 173.0 529.7 173.8 529.7 174.6 530.0 175.4 529.6 176.2 529.2 177.0 529.8 177.8 529.0 178.6 529.5 179.4 528.7 180.2 529.4" fill="none" stroke="#e0129a" stroke-width="1.0" stroke-linejoin="round"/>
</g>
<text x="31.6" y="545.8" font-size="8.9" fill="#000">10</text>
<text x="40.8" y="540.4" font-size="7.8" fill="#000">0</text>
<text x="67.9" y="545.8" font-size="8.9" fill="#000">10</text>
<text x="77.1" y="540.4" font-size="7.8" fill="#000">1</text>
<text x="103.6" y="545.8" font-size="8.9" fill="#000">10</text>
<text x="112.8" y="540.4" font-size="7.8" fill="#000">2</text>
<text x="138.4" y="545.8" font-size="8.9" fill="#000">10</text>
<text x="147.6" y="540.4" font-size="7.8" fill="#000">3</text>
<text x="173.6" y="545.8" font-size="8.9" fill="#000">10</text>
<text x="182.8" y="540.4" font-size="7.8" fill="#000">4</text>
<text class="fl" font-size="10.35" x="92.3" y="397.8">Black: APL+IgG</text>
<text class="fl" font-size="10.35" x="92.3" y="409.7">Green: Viable APL</text>
<text class="fl" font-size="10.35" x="92.3" y="421.8">Pink: Target APL</text>
<text class="b" font-size="9.0" textLength="49" lengthAdjust="spacingAndGlyphs" x="108.5" y="557.6" text-anchor="middle" fill="#000">Annexin II</text>
</g>
<g id="panelE2">
<clipPath id="e2"><rect x="198.5" y="382.5" width="144.8" height="149.4"/></clipPath>
<rect x="198.5" y="382.5" width="144.8" height="149.0" fill="#fff"/>
<path d="M198.5 382.5H343.3" stroke="#333" stroke-width="0.9" fill="none"/>
<path d="M198.5 382.5V531.5M343.3 382.5V531.5" stroke="#333" stroke-width="1" fill="none"/>
<path d="M198.5 531.5H343.3" stroke="#181818" stroke-width="1.3" fill="none"/>
<path d="M198.5 531.5v2.4M209.4 531.5v1.3M215.8 531.5v1.3M220.3 531.5v1.3M223.8 531.5v1.3M226.7 531.5v1.3M229.1 531.5v1.3M231.2 531.5v1.3M233.0 531.5v1.3M234.7 531.5v2.4M245.6 531.5v1.3M252.0 531.5v1.3M256.5 531.5v1.3M260.0 531.5v1.3M262.9 531.5v1.3M265.3 531.5v1.3M267.4 531.5v1.3M269.2 531.5v1.3M270.9 531.5v2.4M281.8 531.5v1.3M288.2 531.5v1.3M292.7 531.5v1.3M296.2 531.5v1.3M299.1 531.5v1.3M301.5 531.5v1.3M303.6 531.5v1.3M305.4 531.5v1.3M307.1 531.5v2.4M318.0 531.5v1.3M324.4 531.5v1.3M328.9 531.5v1.3M332.4 531.5v1.3M335.3 531.5v1.3M337.7 531.5v1.3M339.8 531.5v1.3M341.6 531.5v1.3M343.3 531.5v2.4" stroke="#222" stroke-width="0.7" fill="none"/>
<path d="M198.5 531.0h-2.4M198.5 524.8h-1.2M198.5 518.6h-1.2M198.5 512.4h-1.2M198.5 506.2h-2.4M198.5 500.1h-1.2M198.5 493.9h-1.2M198.5 487.7h-1.2M198.5 481.5h-2.4M198.5 475.3h-1.2M198.5 469.1h-1.2M198.5 462.9h-1.2M198.5 456.7h-2.4M198.5 450.5h-1.2M198.5 444.3h-1.2M198.5 438.1h-1.2M198.5 432.0h-2.4M198.5 425.8h-1.2M198.5 419.6h-1.2M198.5 413.4h-1.2M198.5 407.2h-2.4M198.5 401.0h-1.2M198.5 394.8h-1.2M198.5 388.6h-1.2M198.5 382.4h-2.4" stroke="#222" stroke-width="0.9" fill="none"/>
<text class="ft" transform="translate(192.3,533.0) rotate(-90)" text-anchor="middle">0</text>
<text class="ft" transform="translate(192.3,508.2) rotate(-90)" text-anchor="middle">20</text>
<text class="ft" transform="translate(192.3,483.5) rotate(-90)" text-anchor="middle">40</text>
<text class="ft" transform="translate(192.3,458.7) rotate(-90)" text-anchor="middle">60</text>
<text class="ft" transform="translate(192.3,434.0) rotate(-90)" text-anchor="middle">80</text>
<text class="ft" transform="translate(192.3,409.2) rotate(-90)" text-anchor="middle">100</text>
<text class="ft" transform="translate(192.3,384.4) rotate(-90)" text-anchor="middle">120</text>
<g clip-path="url(#e2)">
<polyline points="198.5 530.2 199.3 530.5 200.1 529.9 200.9 530.3 201.7 531.0 202.5 531.0 203.3 530.8 204.1 530.4 204.9 530.5 205.7 530.2 206.5 528.8 207.3 527.8 208.1 525.7 208.9 521.1 209.7 513.8 210.5 504.1 211.3 496.0 212.1 480.6 212.9 463.0 213.7 444.2 214.5 429.0 215.3 408.6 216.1 408.4 216.9 413.8 217.7 405.6 218.5 411.0 219.3 409.5 220.1 426.4 220.9 434.1 221.7 435.8 222.5 446.2 223.3 455.9 224.1 467.3 224.9 475.5 225.7 478.8 226.5 488.5 227.3 492.0 228.1 498.2 228.9 502.2 229.7 505.5 230.5 506.8 231.3 510.2 232.1 512.4 232.9 512.2 233.7 515.9 234.5 515.8 235.3 516.8 236.1 518.4 236.9 518.9 237.7 519.0 238.5 520.2 239.3 521.5 240.1 522.0 240.9 523.3 241.7 523.7 242.5 523.3 243.3 524.9 244.1 524.7 244.9 527.0 245.7 527.3 246.5 527.0 247.3 527.8 248.1 528.6 248.9 528.8 249.7 529.5 250.5 529.8 251.3 528.7 252.1 530.1 252.9 529.5 253.7 530.3 254.5 529.8 255.3 530.6 256.1 530.7 256.9 530.7 257.7 529.9 258.5 530.7 259.3 530.8 260.1 530.9 260.9 530.6 261.7 530.3 262.5 530.9 263.3 529.8 264.1 529.9 264.9 531.0 265.7 530.6 266.5 530.1 267.3 530.0 268.1 530.8 268.9 530.7 269.7 530.7 270.5 531.0 271.3 530.9 272.1 530.6 272.9 529.4 273.7 530.1 274.5 530.9 275.3 530.6 276.1 530.9 276.9 529.2 277.7 530.8 278.5 530.5 279.3 530.3 280.1 530.9 280.9 530.5 281.7 530.9 282.5 530.7 283.3 530.8 284.1 530.0 284.9 530.1 285.7 530.9 286.5 530.5 287.3 529.8 288.1 530.6 288.9 530.9 289.7 530.3 290.5 530.3 291.3 529.9 292.1 530.1 292.9 529.6 293.7 530.4 294.5 529.6 295.3 531.0 296.1 530.5 296.9 530.8 297.7 530.9 298.5 529.6 299.3 530.3 300.1 530.0 300.9 530.6 301.7 530.2 302.5 530.6 303.3 530.8 304.1 529.8 304.9 530.2 305.7 530.2 306.5 530.4 307.3 530.7 308.1 530.7 308.9 530.6 309.7 530.7 310.5 529.5 311.3 530.8 312.1 530.6 312.9 530.9 313.7 530.8 314.5 530.6 315.3 531.0 316.1 530.7 316.9 530.6 317.7 530.8 318.5 529.9 319.3 531.0 320.1 530.4 320.9 530.9 321.7 529.9 322.5 530.4 323.3 530.9 324.1 530.4 324.9 530.0 325.7 530.8 326.5 530.2 327.3 530.5 328.1 530.5 328.9 530.4 329.7 530.2 330.5 530.8 331.3 530.7 332.1 530.6 332.9 530.8 333.7 530.8 334.5 530.2 335.3 530.8 336.1 530.7 336.9 530.5 337.7 530.3 338.5 530.5 339.3 530.8 340.1 530.4 340.9 530.7 341.7 530.3 342.5 530.0" fill="none" stroke="#1a1a1a" stroke-width="0.9" stroke-linejoin="round"/>
<polyline points="198.5 530.9 199.3 530.7 200.1 530.7 200.9 530.5 201.7 530.7 202.5 530.9 203.3 530.1 204.1 529.7 204.9 530.8 205.7 530.4 206.5 530.6 207.3 530.3 208.1 530.6 208.9 530.8 209.7 530.2 210.5 529.5 211.3 530.0 212.1 530.7 212.9 530.1 213.7 530.7 214.5 530.8 215.3 530.7 216.1 531.0 216.9 530.5 217.7 530.7 218.5 530.4 219.3 530.2 220.1 530.8 220.9 530.3 221.7 529.9 222.5 530.5 223.3 530.2 224.1 530.8 224.9 530.8 225.7 530.8 226.5 530.8 227.3 530.5 228.1 530.8 228.9 530.8 229.7 530.7 230.5 530.8 231.3 530.4 232.1 530.6 232.9 530.3 233.7 530.7 234.5 530.7 235.3 530.4 236.1 529.9 236.9 528.8 237.7 528.4 238.5 528.2 239.3 526.7 240.1 524.2 240.9 522.6 241.7 517.9 242.5 514.7 243.3 508.5 244.1 501.4 244.9 493.5 245.7 484.6 246.5 473.2 247.3 455.9 248.1 444.1 248.9 432.4 249.7 417.5 250.5 410.4 251.3 395.3 252.1 385.3 252.9 378.9 253.7 376.1 254.5 368.6 255.3 373.3 256.1 388.3 256.9 400.9 257.7 414.9 258.5 435.7 259.3 445.7 260.1 463.0 260.9 475.7 261.7 485.4 262.5 494.6 263.3 498.8 264.1 504.2 264.9 509.0 265.7 512.3 266.5 514.0 267.3 515.6 268.1 517.6 268.9 520.1 269.7 521.9 270.5 523.2 271.3 525.1 272.1 526.5 272.9 527.5 273.7 528.7 274.5 528.7 275.3 529.3 276.1 530.1 276.9 530.3 277.7 529.7 278.5 530.6 279.3 530.7 280.1 530.9 280.9 530.6 281.7 530.3 282.5 529.6 283.3 530.6 284.1 530.4 284.9 530.6 285.7 530.6 286.5 530.5 287.3 530.9 288.1 530.7 288.9 530.8 289.7 530.4 290.5 530.7 291.3 530.5 292.1 530.7 292.9 530.8 293.7 530.6 294.5 531.0 295.3 530.7 296.1 530.7 296.9 530.4 297.7 530.7 298.5 530.9 299.3 531.0 300.1 530.5 300.9 530.6 301.7 530.8 302.5 530.7 303.3 530.1 304.1 530.6 304.9 531.0 305.7 530.4 306.5 530.6 307.3 530.8 308.1 530.9 308.9 530.6 309.7 530.6 310.5 529.7 311.3 530.5 312.1 530.9 312.9 530.2 313.7 530.6 314.5 529.8 315.3 530.6 316.1 530.8 316.9 530.6 317.7 530.2 318.5 530.1 319.3 529.8 320.1 530.8 320.9 530.8 321.7 530.8 322.5 530.7 323.3 530.7 324.1 530.1 324.9 530.7 325.7 530.4 326.5 530.9 327.3 530.6 328.1 529.8 328.9 531.0 329.7 530.6 330.5 530.9 331.3 530.6 332.1 530.3 332.9 530.7 333.7 530.8 334.5 529.9 335.3 530.9 336.1 530.5 336.9 530.6 337.7 530.6 338.5 530.6 339.3 529.9 340.1 530.9 340.9 530.3 341.7 529.9 342.5 530.7" fill="none" stroke="#2de82d" stroke-width="0.9" stroke-linejoin="round"/>
<polyline points="198.5 529.8 199.3 530.7 200.1 530.4 200.9 530.9 201.7 529.9 202.5 529.8 203.3 530.9 204.1 529.8 204.9 530.8 205.7 530.5 206.5 529.2 207.3 529.2 208.1 530.0 208.9 528.8 209.7 528.7 210.5 528.0 211.3 527.3 212.1 525.4 212.9 523.5 213.7 520.4 214.5 517.7 215.3 514.4 216.1 510.0 216.9 507.6 217.7 501.4 218.5 496.0 219.3 489.7 220.1 486.2 220.9 479.8 221.7 476.8 222.5 480.5 223.3 477.1 224.1 464.0 224.9 465.6 225.7 461.3 226.5 466.0 227.3 457.3 228.1 468.8 228.9 453.9 229.7 445.6 230.5 443.1 231.3 441.4 232.1 421.7 232.9 429.3 233.7 431.9 234.5 438.3 235.3 432.1 236.1 433.6 236.9 448.4 237.7 448.2 238.5 463.0 239.3 471.9 240.1 481.5 240.9 488.9 241.7 495.0 242.5 504.8 243.3 505.8 244.1 511.4 244.9 514.0 245.7 516.8 246.5 518.9 247.3 518.4 248.1 521.1 248.9 521.4 249.7 521.3 250.5 520.6 251.3 521.8 252.1 523.1 252.9 525.0 253.7 524.8 254.5 525.5 255.3 527.1 256.1 525.9 256.9 527.3 257.7 528.1 258.5 527.9 259.3 529.4 260.1 529.3 260.9 527.8 261.7 529.7 262.5 529.8 263.3 530.6 264.1 530.0 264.9 530.5 265.7 528.8 266.5 531.0 267.3 530.9 268.1 530.5 268.9 530.3 269.7 530.3 270.5 530.8 271.3 530.5 272.1 530.0 272.9 529.3 273.7 530.0 274.5 530.0 275.3 530.6 276.1 530.2 276.9 528.3 277.7 530.6 278.5 530.8 279.3 529.6 280.1 530.7 280.9 530.2 281.7 529.6 282.5 530.5 283.3 530.6 284.1 530.4 284.9 530.6 285.7 530.1 286.5 530.1 287.3 529.8 288.1 528.5 288.9 528.8 289.7 530.6 290.5 530.2 291.3 528.9 292.1 530.7 292.9 529.1 293.7 530.8 294.5 530.8 295.3 529.9 296.1 529.7 296.9 530.6 297.7 529.5 298.5 530.8 299.3 529.7 300.1 530.7 300.9 530.2 301.7 529.4 302.5 530.8 303.3 530.8 304.1 530.1 304.9 530.7 305.7 530.8 306.5 530.7 307.3 529.4 308.1 530.3 308.9 530.8 309.7 530.3 310.5 530.9 311.3 530.5 312.1 529.7 312.9 529.6 313.7 529.5 314.5 530.9 315.3 528.5 316.1 530.1 316.9 530.9 317.7 530.1 318.5 530.9 319.3 529.6 320.1 530.6 320.9 528.5 321.7 530.5 322.5 529.6 323.3 529.7 324.1 530.8 324.9 529.3 325.7 530.6 326.5 530.9 327.3 529.5 328.1 529.2 328.9 529.3 329.7 530.6 330.5 530.4 331.3 530.6 332.1 530.5 332.9 531.0 333.7 529.2 334.5 530.4 335.3 529.5 336.1 529.5 336.9 529.8 337.7 530.8 338.5 529.9 339.3 530.5 340.1 529.7 340.9 530.3 341.7 529.1 342.5 530.5" fill="none" stroke="#e0129a" stroke-width="1.0" stroke-linejoin="round"/>
</g>
<text x="194.1" y="546.3" font-size="8.9" fill="#000">10</text>
<text x="203.3" y="540.9" font-size="7.8" fill="#000">0</text>
<text x="229.5" y="546.3" font-size="8.9" fill="#000">10</text>
<text x="238.7" y="540.9" font-size="7.8" fill="#000">1</text>
<text x="267.0" y="546.3" font-size="8.9" fill="#000">10</text>
<text x="276.2" y="540.9" font-size="7.8" fill="#000">2</text>
<text x="303.2" y="546.3" font-size="8.9" fill="#000">10</text>
<text x="312.4" y="540.9" font-size="7.8" fill="#000">3</text>
<text x="337.1" y="546.3" font-size="8.9" fill="#000">10</text>
<text x="346.3" y="540.9" font-size="7.8" fill="#000">4</text>
<text class="fl" font-size="10.2" x="230.8" y="397.1">Black: MΦ+IgG</text>
<text class="fl" font-size="10.2" x="230.8" y="408.6">Green: Permeabilized</text>
<text class="fl" font-size="10.2" x="230.8" y="420.1">Pink: Non-permeabilized</text>
<text class="b" font-size="9.0" textLength="49" lengthAdjust="spacingAndGlyphs" x="270.8" y="557.6" text-anchor="middle" fill="#000">Annexin II</text>
</g>
<g id="panelE3">
<clipPath id="e3"><rect x="362.3" y="382.5" width="147.7" height="149.4"/></clipPath>
<rect x="362.3" y="382.5" width="147.7" height="149.0" fill="#fff"/>
<path d="M362.3 382.5H510.0" stroke="#ccc" stroke-width="0.9" fill="none"/>
<path d="M362.3 382.5V531.5M510.0 382.5V531.5" stroke="#777" stroke-width="1" fill="none"/>
<path d="M362.3 531.5H510.0" stroke="#181818" stroke-width="1.3" fill="none"/>
<path d="M362.3 531.5v2.4M373.4 531.5v1.3M379.9 531.5v1.3M384.5 531.5v1.3M388.1 531.5v1.3M391.0 531.5v1.3M393.5 531.5v1.3M395.6 531.5v1.3M397.5 531.5v1.3M399.2 531.5v2.4M410.3 531.5v1.3M416.8 531.5v1.3M421.5 531.5v1.3M425.0 531.5v1.3M428.0 531.5v1.3M430.4 531.5v1.3M432.6 531.5v1.3M434.5 531.5v1.3M436.1 531.5v2.4M447.3 531.5v1.3M453.8 531.5v1.3M458.4 531.5v1.3M462.0 531.5v1.3M464.9 531.5v1.3M467.4 531.5v1.3M469.5 531.5v1.3M471.4 531.5v1.3M473.1 531.5v2.4M484.2 531.5v1.3M490.7 531.5v1.3M495.3 531.5v1.3M498.9 531.5v1.3M501.8 531.5v1.3M504.3 531.5v1.3M506.4 531.5v1.3M508.3 531.5v1.3M510.0 531.5v2.4" stroke="#222" stroke-width="0.7" fill="none"/>
<path d="M362.3 531.0h-2.4M362.3 524.3h-1.2M362.3 517.5h-1.2M362.3 510.8h-1.2M362.3 504.0h-2.4M362.3 497.3h-1.2M362.3 490.6h-1.2M362.3 483.8h-1.2M362.3 477.1h-2.4M362.3 470.3h-1.2M362.3 463.6h-1.2M362.3 456.9h-1.2M362.3 450.1h-2.4M362.3 443.4h-1.2M362.3 436.6h-1.2M362.3 429.9h-1.2M362.3 423.2h-2.4M362.3 416.4h-1.2M362.3 409.7h-1.2M362.3 402.9h-1.2M362.3 396.2h-2.4M362.3 389.5h-1.2M362.3 382.7h-1.2" stroke="#222" stroke-width="0.9" fill="none"/>
<text class="ft" transform="translate(356.2,533.0) rotate(-90)" text-anchor="middle">0</text>
<text class="ft" transform="translate(356.2,506.0) rotate(-90)" text-anchor="middle">20</text>
<text class="ft" transform="translate(356.2,479.1) rotate(-90)" text-anchor="middle">40</text>
<text class="ft" transform="translate(356.2,452.1) rotate(-90)" text-anchor="middle">60</text>
<text class="ft" transform="translate(356.2,425.2) rotate(-90)" text-anchor="middle">80</text>
<text class="ft" transform="translate(356.2,398.2) rotate(-90)" text-anchor="middle">100</text>
<g clip-path="url(#e3)">
<polyline points="362.3 530.8 363.1 530.1 363.9 530.3 364.7 529.3 365.5 529.2 366.3 529.4 367.1 529.0 367.9 527.4 368.7 527.1 369.5 525.4 370.3 523.4 371.1 521.1 371.9 518.3 372.7 515.5 373.5 509.1 374.3 506.0 375.1 496.4 375.9 490.8 376.7 483.5 377.5 476.0 378.3 469.1 379.1 461.4 379.9 448.6 380.7 444.0 381.5 438.0 382.3 415.7 383.1 413.1 383.9 416.6 384.7 416.4 385.5 411.9 386.3 406.2 387.1 418.8 387.9 413.3 388.7 417.3 389.5 427.3 390.3 444.1 391.1 452.0 391.9 457.2 392.7 457.9 393.5 472.8 394.3 483.4 395.1 488.9 395.9 500.1 396.7 503.7 397.5 509.9 398.3 513.8 399.1 516.7 399.9 519.9 400.7 523.1 401.5 523.6 402.3 527.0 403.1 527.9 403.9 528.9 404.7 528.6 405.5 529.8 406.3 530.0 407.1 530.1 407.9 530.1 408.7 530.1 409.5 530.4 410.3 530.8 411.1 530.7 411.9 530.9 412.7 530.2 413.5 529.4 414.3 530.2 415.1 529.9 415.9 530.5 416.7 530.5 417.5 530.3 418.3 530.2 419.1 529.8 419.9 529.7 420.7 530.8 421.5 530.7 422.3 529.8 423.1 530.5 423.9 530.4 424.7 530.6 425.5 530.1 426.3 530.1 427.1 530.8 427.9 530.5 428.7 531.0 429.5 530.6 430.3 530.8 431.1 530.3 431.9 531.0 432.7 530.2 433.5 529.6 434.3 530.7 435.1 530.5 435.9 530.2 436.7 530.8 437.5 530.5 438.3 530.4 439.1 530.6 439.9 530.3 440.7 530.6 441.5 530.3 442.3 530.8 443.1 530.3 443.9 529.9 444.7 530.5 445.5 530.5 446.3 530.9 447.1 530.8 447.9 530.9 448.7 530.8 449.5 530.8 450.3 530.5 451.1 530.9 451.9 530.8 452.7 530.7 453.5 530.9 454.3 530.3 455.1 530.4 455.9 530.7 456.7 530.8 457.5 530.4 458.3 530.4 459.1 530.2 459.9 529.8 460.7 530.7 461.5 530.8 462.3 530.0 463.1 530.4 463.9 530.6 464.7 530.6 465.5 530.9 466.3 530.3 467.1 530.7 467.9 530.7 468.7 529.6 469.5 530.7 470.3 530.3 471.1 530.5 471.9 530.6 472.7 529.5 473.5 530.0 474.3 530.3 475.1 529.8 475.9 530.9 476.7 530.3 477.5 530.8 478.3 530.2 479.1 531.0 479.9 530.7 480.7 530.3 481.5 530.7 482.3 530.1 483.1 529.9 483.9 530.7 484.7 530.5 485.5 530.7 486.3 530.5 487.1 529.6 487.9 530.7 488.7 530.8 489.5 530.9 490.3 530.7 491.1 530.7 491.9 530.9 492.7 530.9 493.5 530.6 494.3 530.1 495.1 530.5 495.9 531.0 496.7 530.7 497.5 530.7 498.3 529.9 499.1 530.7 499.9 530.1 500.7 530.4 501.5 530.6 502.3 530.7 503.1 529.8 503.9 530.7 504.7 530.7 505.5 530.8 506.3 529.8 507.1 530.7 507.9 531.0 508.7 530.9 509.5 529.6" fill="none" stroke="#1a1a1a" stroke-width="0.9" stroke-linejoin="round"/>
<polyline points="362.3 530.8 363.1 529.6 363.9 531.0 364.7 530.5 365.5 530.3 366.3 530.5 367.1 531.0 367.9 530.6 368.7 530.9 369.5 529.9 370.3 530.9 371.1 530.8 371.9 531.0 372.7 530.9 373.5 530.9 374.3 530.7 375.1 529.6 375.9 529.9 376.7 530.1 377.5 530.5 378.3 530.7 379.1 530.5 379.9 529.8 380.7 530.8 381.5 530.7 382.3 530.5 383.1 530.6 383.9 530.4 384.7 529.7 385.5 529.7 386.3 529.1 387.1 526.9 387.9 527.2 388.7 524.3 389.5 522.7 390.3 518.3 391.1 514.1 391.9 507.5 392.7 501.9 393.5 492.8 394.3 482.5 395.1 466.3 395.9 462.0 396.7 443.7 397.5 423.9 398.3 418.7 399.1 405.5 399.9 395.0 400.7 386.4 401.5 376.6 402.3 381.2 403.1 373.6 403.9 381.1 404.7 386.3 405.5 390.6 406.3 410.5 407.1 422.4 407.9 434.3 408.7 442.3 409.5 460.5 410.3 475.6 411.1 479.2 411.9 489.3 412.7 496.4 413.5 501.3 414.3 505.5 415.1 510.8 415.9 514.5 416.7 517.3 417.5 517.4 418.3 521.5 419.1 522.9 419.9 525.4 420.7 526.4 421.5 527.7 422.3 528.7 423.1 529.1 423.9 528.4 424.7 529.7 425.5 529.9 426.3 530.3 427.1 530.4 427.9 530.5 428.7 529.7 429.5 529.4 430.3 530.5 431.1 530.3 431.9 530.9 432.7 530.4 433.5 530.3 434.3 529.5 435.1 528.9 435.9 531.0 436.7 530.9 437.5 530.3 438.3 530.1 439.1 530.1 439.9 530.9 440.7 530.9 441.5 530.9 442.3 531.0 443.1 530.5 443.9 530.2 444.7 530.2 445.5 530.7 446.3 530.6 447.1 530.3 447.9 530.1 448.7 530.4 449.5 530.9 450.3 530.8 451.1 530.6 451.9 530.5 452.7 530.2 453.5 529.8 454.3 530.7 455.1 530.6 455.9 530.5 456.7 530.2 457.5 530.9 458.3 530.2 459.1 530.3 459.9 530.8 460.7 531.0 461.5 530.7 462.3 530.7 463.1 531.0 463.9 530.5 464.7 530.4 465.5 530.1 466.3 530.5 467.1 530.2 467.9 530.5 468.7 530.3 469.5 530.4 470.3 530.8 471.1 530.6 471.9 530.7 472.7 530.3 473.5 530.5 474.3 530.5 475.1 530.9 475.9 530.9 476.7 530.9 477.5 530.9 478.3 530.8 479.1 530.6 479.9 530.6 480.7 530.7 481.5 530.6 482.3 530.4 483.1 530.7 483.9 530.6 484.7 530.7 485.5 530.9 486.3 530.4 487.1 530.9 487.9 529.7 488.7 530.9 489.5 530.0 490.3 530.8 491.1 530.8 491.9 531.0 492.7 530.8 493.5 530.8 494.3 530.8 495.1 530.5 495.9 530.5 496.7 530.9 497.5 530.0 498.3 530.7 499.1 530.8 499.9 530.3 500.7 530.2 501.5 530.0 502.3 530.0 503.1 530.9 503.9 530.4 504.7 530.0 505.5 530.5 506.3 530.1 507.1 530.9 507.9 530.5 508.7 530.8 509.5 530.4" fill="none" stroke="#2de82d" stroke-width="0.9" stroke-linejoin="round"/>
<polyline points="362.3 511.8 363.1 510.2 363.9 527.9 364.7 529.0 365.5 527.5 366.3 528.3 367.1 526.9 367.9 524.7 368.7 523.0 369.5 521.8 370.3 518.5 371.1 515.9 371.9 510.6 372.7 507.4 373.5 498.5 374.3 496.3 375.1 487.2 375.9 481.7 376.7 475.1 377.5 465.3 378.3 460.3 379.1 451.5 379.9 437.6 380.7 436.3 381.5 429.3 382.3 422.4 383.1 417.8 383.9 416.8 384.7 418.5 385.5 420.6 386.3 425.2 387.1 421.4 387.9 429.8 388.7 430.9 389.5 438.3 390.3 450.0 391.1 455.3 391.9 463.4 392.7 475.3 393.5 479.3 394.3 489.1 395.1 496.2 395.9 502.3 396.7 503.1 397.5 512.0 398.3 515.5 399.1 518.9 399.9 520.1 400.7 523.8 401.5 524.9 402.3 526.7 403.1 527.7 403.9 527.9 404.7 528.1 405.5 530.0 406.3 529.1 407.1 530.1 407.9 529.2 408.7 530.5 409.5 528.1 410.3 529.7 411.1 529.4 411.9 530.9 412.7 530.9 413.5 529.6 414.3 530.4 415.1 530.9 415.9 528.9 416.7 530.4 417.5 529.4 418.3 528.6 419.1 530.6 419.9 530.8 420.7 530.9 421.5 530.3 422.3 530.2 423.1 529.8 423.9 530.7 424.7 530.6 425.5 530.6 426.3 530.7 427.1 529.6 427.9 530.6 428.7 530.7 429.5 530.5 430.3 530.3 431.1 528.8 431.9 530.9 432.7 530.3 433.5 530.1 434.3 530.8 435.1 530.8 435.9 528.8 436.7 528.6 437.5 529.1 438.3 530.8 439.1 529.6 439.9 529.8 440.7 530.7 441.5 530.5 442.3 528.6 443.1 530.1 443.9 529.1 444.7 530.1 445.5 529.2 446.3 530.3 447.1 530.6 447.9 529.8 448.7 530.3 449.5 530.9 450.3 530.1 451.1 529.9 451.9 530.5 452.7 529.9 453.5 529.5 454.3 530.8 455.1 528.3 455.9 530.1 456.7 529.9 457.5 527.2 458.3 530.9 459.1 529.6 459.9 530.7 460.7 530.3 461.5 530.1 462.3 528.7 463.1 528.9 463.9 529.9 464.7 530.2 465.5 530.3 466.3 529.4 467.1 529.0 467.9 530.5 468.7 530.8 469.5 530.7 470.3 529.4 471.1 529.4 471.9 529.5 472.7 530.2 473.5 529.6 474.3 530.8 475.1 530.6 475.9 530.5 476.7 530.3 477.5 530.9 478.3 530.1 479.1 530.9 479.9 530.4 480.7 530.2 481.5 531.0 482.3 530.5 483.1 528.2 483.9 530.4 484.7 529.0 485.5 530.3 486.3 530.0 487.1 530.4 487.9 530.8 488.7 530.6 489.5 528.8 490.3 530.2 491.1 530.6 491.9 530.3 492.7 529.7 493.5 529.4 494.3 530.8 495.1 530.4 495.9 529.3 496.7 530.8 497.5 529.9 498.3 530.7 499.1 530.6 499.9 530.3 500.7 529.9 501.5 530.6 502.3 529.7 503.1 529.8 503.9 528.1 504.7 529.3 505.5 529.8 506.3 529.9 507.1 528.8 507.9 529.4 508.7 529.7 509.5 529.3" fill="none" stroke="#e0129a" stroke-width="1.1" stroke-linejoin="round"/>
</g>
<text x="358.2" y="546.3" font-size="8.9" fill="#000">10</text>
<text x="367.4" y="540.9" font-size="7.8" fill="#000">0</text>
<text x="395.3" y="546.3" font-size="8.9" fill="#000">10</text>
<text x="404.5" y="540.9" font-size="7.8" fill="#000">1</text>
<text x="433.0" y="546.3" font-size="8.9" fill="#000">10</text>
<text x="442.2" y="540.9" font-size="7.8" fill="#000">2</text>
<text x="470.0" y="546.3" font-size="8.9" fill="#000">10</text>
<text x="479.2" y="540.9" font-size="7.8" fill="#000">3</text>
<text x="506.5" y="546.3" font-size="8.9" fill="#000">10</text>
<text x="515.7" y="540.9" font-size="7.8" fill="#000">4</text>
<text class="fl" font-size="10.2" x="398.4" y="397.9">Black: ECs+IgG</text>
<text class="fl" font-size="10.2" x="398.4" y="409.5">Green: Permeabilized</text>
<text class="fl" font-size="10.2" x="398.4" y="421.2">Pink: Non-permeabilized</text>
<text class="b" font-size="9.0" textLength="49" lengthAdjust="spacingAndGlyphs" x="437" y="557.6" text-anchor="middle" fill="#000">Annexin II</text>
</g>
</svg></body></html>
